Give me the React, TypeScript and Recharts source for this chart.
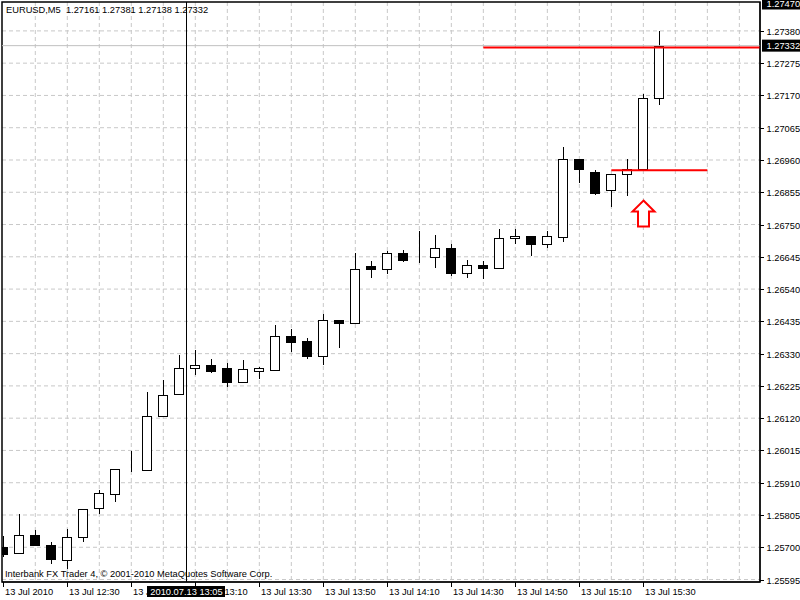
import React from 'react';
import {
  ComposedChart,
  Bar,
  XAxis,
  YAxis,
  CartesianGrid,
  ReferenceLine,
  ReferenceDot,
  ReferenceArea,
} from 'recharts';

// ---- data (EURUSD M5, 13 Jul 2010) ----
const opens = [
  1.25701, 1.2568, 1.25739, 1.25706, 1.25658, 1.25732, 1.25827, 1.25872, 1.25953, 1.25952,
  1.26126, 1.26198, 1.26282, 1.26293, 1.26283, 1.26239, 1.26275, 1.26278, 1.26387, 1.26371,
  1.26322, 1.26439, 1.26429, 1.26614, 1.26605, 1.26657, 1.26637, 1.26644, 1.26673, 1.26592,
  1.26618, 1.26609, 1.26707, 1.26712, 1.26686, 1.2671, 1.26963, 1.2692, 1.26861, 1.26914,
  1.2693, 1.27161,
];
const highs = [
  1.25736, 1.25808, 1.25756, 1.25717, 1.25759, 1.25825, 1.25886, 1.25955, 1.26013, 1.26205,
  1.26245, 1.26327, 1.26342, 1.26312, 1.26298, 1.2631, 1.26288, 1.26423, 1.26411, 1.26381,
  1.26459, 1.2644, 1.26657, 1.26631, 1.26663, 1.26667, 1.2673, 1.26717, 1.26687, 1.26634,
  1.26631, 1.26736, 1.26736, 1.26712, 1.2673, 1.27003, 1.26964, 1.26928, 1.26914, 1.26964,
  1.27174, 1.27381,
];
const lows = [
  1.25668, 1.25678, 1.25709, 1.25644, 1.2563, 1.25718, 1.25807, 1.25848, 1.25945, 1.25951,
  1.26125, 1.26197, 1.26261, 1.26266, 1.26223, 1.26238, 1.26248, 1.26272, 1.26334, 1.26312,
  1.26294, 1.26347, 1.26425, 1.26577, 1.2659, 1.26628, 1.26626, 1.2661, 1.26581, 1.26577,
  1.26574, 1.26604, 1.26686, 1.26649, 1.26673, 1.26694, 1.26884, 1.26845, 1.26808, 1.26844,
  1.2693, 1.27138,
];
const closes = [
  1.25678, 1.25739, 1.25709, 1.25662, 1.25732, 1.25824, 1.25876, 1.25954, 1.25952, 1.26126,
  1.26194, 1.26282, 1.26293, 1.26275, 1.26239, 1.26279, 1.26284, 1.26387, 1.26369, 1.26321,
  1.26439, 1.2643, 1.26605, 1.26604, 1.26657, 1.26634, 1.26637, 1.26673, 1.26592, 1.26618,
  1.26607, 1.26707, 1.26712, 1.26686, 1.26712, 1.26963, 1.2693, 1.26854, 1.26914, 1.26932,
  1.27161, 1.27332,
];

const timeTickIndex = [0, 4, 8, 12, 16, 20, 24, 28, 32, 36, 40];
const timeLabels = [
  '13 Jul 2010', '13 Jul 12:30', '13 Jul 12:50', '13 Jul 13:10', '13 Jul 13:30', '13 Jul 13:50',
  '13 Jul 14:10', '13 Jul 14:30', '13 Jul 14:50', '13 Jul 15:10', '13 Jul 15:30',
];
const gridIndices = [2, 4, 6, 8, 10, 12, 14, 16, 18, 20, 22, 24, 26, 28, 30, 32, 34, 36, 38, 40, 42, 44, 46];
const priceTicks = [
  1.25595, 1.257, 1.25805, 1.2591, 1.26015, 1.2612, 1.26225, 1.2633, 1.26435, 1.2654,
  1.26645, 1.2675, 1.26855, 1.2696, 1.27065, 1.2717, 1.27275, 1.2738,
];
const topPrice = 1.2747;
const bidPrice = 1.27332;
const redLevelHigh = 1.27326;
const redLevelHighFrom = 30;
const redLevelLow = 1.26927;
const redLevelLowFrom = 38;
const redLevelLowTo = 44;
const arrowIndex = 40;
const arrowPrice = 1.26828;
const crosshairIndex = 11.45;
const crosshairLabel = '2010.07.13 13:05';
const titleText = 'EURUSD,M5  1.27161 1.27381 1.27138 1.27332';
const copyrightText = 'Interbank FX Trader 4, \u00A9 2001-2010 MetaQuotes Software Corp.';

const X_DOMAIN: [number, number] = [-0.081, 47.29];
const Y_DOMAIN: [number, number] = [1.25587, 1.27474];

const data = opens.map((o, i) => ({
  i,
  open: o,
  high: highs[i],
  low: lows[i],
  close: closes[i],
}));

const FONT = '"Liberation Sans", Arial, sans-serif';
const FS = 9.3;

const Candle = (props: any) => {
  const { x, y, width, height } = props;
  const p = props.payload ?? props;
  const { open, close, high, low } = p;
  const top = Math.min(y, y + height);
  const h = Math.abs(height);
  const pix = (v: number) => (high === low ? top : top + ((high - v) / (high - low)) * h);
  const cx = Math.floor(x + width / 2) + 0.5;
  const yo = pix(open);
  const yc = pix(close);
  const bTop = Math.round(Math.min(yo, yc)) + 0.5;
  const bBot = Math.round(Math.max(yo, yc)) + 0.5;
  const bull = close >= open;
  return (
    <g>
      <line x1={cx} x2={cx} y1={Math.round(top)} y2={Math.round(top + h)} stroke="#000" strokeWidth={1} />
      <rect
        x={cx - 5}
        y={bTop}
        width={9}
        height={Math.max(0, bBot - bTop)}
        fill={bull ? '#fff' : '#000'}
        stroke="#000"
        strokeWidth={1}
      />
    </g>
  );
};

const TimeTick = (props: any) => {
  const { x, y, payload } = props;
  const v = payload.value as number;
  if (Math.abs(v - crosshairIndex) < 1e-9) {
    const bx = Math.floor(x) + 0.5;
    return (
      <g>
        <rect x={bx - 39.5} y={y + 4} width={78} height={11} fill="#000" />
        <text x={bx} y={y + 13} textAnchor="middle" fontSize={FS} fontFamily={FONT} fill="#fff">
          {crosshairLabel}
        </text>
      </g>
    );
  }
  const idx = timeTickIndex.indexOf(v);
  const px = Math.floor(x) + 0.5;
  return (
    <g>
      <line x1={px} x2={px} y1={y} y2={y + 5} stroke="#000" />
      <text x={px + 1.5} y={y + 13} fontSize={FS} fontFamily={FONT} fill="#000">
        {idx >= 0 ? timeLabels[idx] : ''}
      </text>
    </g>
  );
};

const PriceTick = (props: any) => {
  const { x, y, payload } = props;
  const v = payload.value as number;
  const py = Math.round(y) + 0.5;
  if (Math.abs(v - topPrice) < 1e-7) {
    return (
      <g>
        <rect x={x + 2} y={py - 6} width={40} height={12} fill="#000" />
        <text x={x + 6.5} y={py + 3.5} fontSize={FS} fontFamily={FONT} fill="#fff">
          {v.toFixed(5)}
        </text>
      </g>
    );
  }
  return (
    <g>
      <line x1={x} x2={x + 4} y1={py} y2={py} stroke="#000" />
      <text x={x + 6.5} y={py + 3.5} fontSize={FS} fontFamily={FONT} fill="#000">
        {v.toFixed(5)}
      </text>
    </g>
  );
};

const BidLabel = (props: any) => {
  const vb = props.viewBox || {};
  const bx = vb.x + vb.width;
  const by = vb.y;
  return (
    <g>
      <rect x={bx + 2} y={by - 6} width={40} height={12} fill="#000" />
      <text x={bx + 6.5} y={by + 3.5} fontSize={FS} fontFamily={FONT} fill="#fff">
        {bidPrice.toFixed(5)}
      </text>
    </g>
  );
};

const Arrow = (props: any) => {
  const { cx, cy } = props;
  const x = Math.floor(cx) + 0.5;
  const y = cy;
  const d = `M${x},${y} L${x + 11},${y + 11} L${x + 5.5},${y + 11} L${x + 5.5},${y + 26} L${x - 5.5},${y + 26} L${x - 5.5},${y + 11} L${x - 11},${y + 11} Z`;
  return <path d={d} fill="#fff" stroke="#ff0000" strokeWidth={2} />;
};

export default function App() {
  return (
    <div style={{ position: 'absolute', left: 0, top: 0, width: 800, height: 600, background: '#fff' }}>
      <ComposedChart
        width={800}
        height={600}
        data={data}
        margin={{ top: 2, right: 0, bottom: 0, left: 2 }}
      >
        <CartesianGrid
          horizontalValues={priceTicks}
          verticalValues={gridIndices}
          stroke="#c8c8c8"
          strokeDasharray="4 3"
          fill="none"
        />
        <XAxis
          dataKey="i"
          type="number"
          domain={X_DOMAIN}
          allowDataOverflow
          ticks={[...timeTickIndex, crosshairIndex]}
          interval={0}
          tickSize={0}
          tickMargin={0}
          height={18}
          axisLine={{ stroke: '#000' }}
          tickLine={false}
          tick={<TimeTick />}
        />
        <YAxis
          orientation="right"
          type="number"
          domain={Y_DOMAIN}
          allowDataOverflow
          ticks={[...priceTicks, topPrice]}
          interval={0}
          tickSize={0}
          tickMargin={0}
          width={40}
          axisLine={{ stroke: '#000' }}
          tickLine={false}
          tick={<PriceTick />}
        />
        <ReferenceArea
          x1={X_DOMAIN[0]}
          x2={X_DOMAIN[1]}
          y1={Y_DOMAIN[0]}
          y2={Y_DOMAIN[1]}
          fill="none"
          stroke="#000"
          strokeWidth={1.5}
          ifOverflow="visible"
        />
        <ReferenceLine y={bidPrice} stroke="#c0c0c0" strokeWidth={1} label={BidLabel} />
        <Bar
          dataKey={(d: any) => [d.low, d.high]}
          barSize={10}
          shape={<Candle />}
          isAnimationActive={false}
        />
        <ReferenceLine
          segment={[{ x: redLevelHighFrom, y: redLevelHigh }, { x: X_DOMAIN[1], y: redLevelHigh }]}
          stroke="#ff0000"
          strokeWidth={2}
        />
        <ReferenceLine
          segment={[{ x: redLevelLowFrom, y: redLevelLow }, { x: redLevelLowTo, y: redLevelLow }]}
          stroke="#ff0000"
          strokeWidth={2}
        />
        <ReferenceDot x={arrowIndex} y={arrowPrice} r={1} shape={<Arrow />} />
        <ReferenceLine x={crosshairIndex} stroke="#000" strokeWidth={1} />
        <text x={6} y={12.5} fontSize={FS} fontFamily={FONT} fill="#000" style={{ whiteSpace: 'pre' }}>
          {titleText}
        </text>
        <text x={5} y={577} fontSize={FS} fontFamily={FONT} fill="#000">
          {copyrightText}
        </text>
      </ComposedChart>
    </div>
  );
}
